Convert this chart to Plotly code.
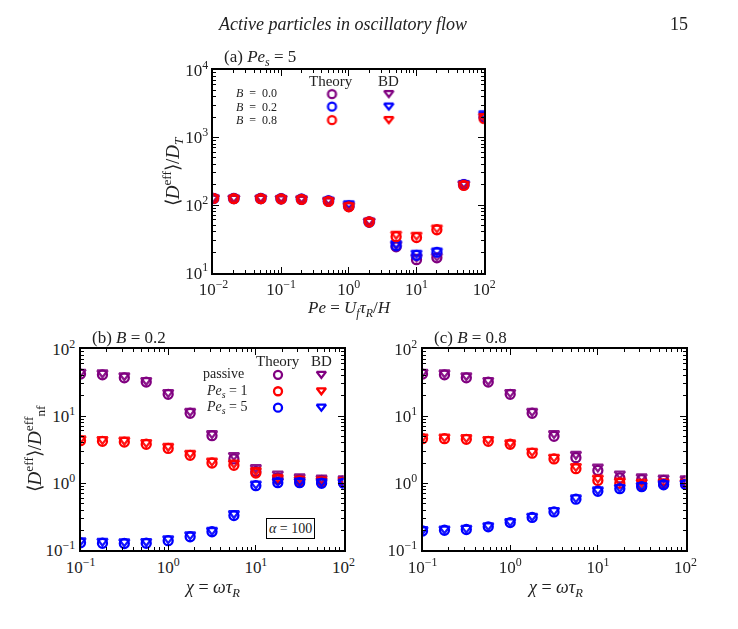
import plotly.graph_objects as go

W, H = 738, 629
FONT = "Liberation Serif"

# ---------------- data ----------------
pe = [0.01, 0.02, 0.05, 0.1, 0.2, 0.5, 1, 2, 5, 10, 20, 50, 100]
a_th_b00 = [125, 125, 125, 124, 122, 115, 95, 56, 24, 15.5, 16.5, 200, 1950]
a_bd_b00 = [128, 127, 127, 126, 124, 118, 100, 58, 26, 17, 17.5, 205, 2100]
a_th_b02 = [125, 125, 125, 124, 122, 115, 97, 56, 25, 18, 20, 200, 2000]
a_bd_b02 = [128, 127, 127, 126, 124, 118, 105, 58, 27, 19.5, 21, 210, 2250]
a_th_b08 = [125, 124, 124, 123, 121, 113, 94, 56, 34, 33, 43, 195, 1900]
a_bd_b08 = [128, 127, 127, 126, 124, 117, 98, 58, 37, 36, 46, 205, 2050]

chi = [0.1, 0.178, 0.316, 0.562, 1, 1.78, 3.16, 5.62, 10, 17.8, 31.6, 56.2, 100]
b_th_passive = [42, 41, 37, 32, 21, 11, 5.1, 2.3, 1.5, 1.2, 1.12, 1.1, 1.08]
b_bd_passive = [45, 44, 40, 34, 22.5, 11.8, 5.5, 2.6, 1.72, 1.38, 1.25, 1.2, 1.17]
b_th_pe1 = [4.3, 4.2, 4.1, 3.8, 3.3, 2.6, 2.0, 1.85, 1.42, 1.15, 1.08, 1.05, 1.03]
b_bd_pe1 = [4.6, 4.5, 4.4, 4.05, 3.55, 2.8, 2.15, 2.0, 1.55, 1.22, 1.15, 1.12, 1.1]
b_th_pe5 = [0.13, 0.128, 0.127, 0.128, 0.14, 0.16, 0.19, 0.33, 0.92, 1.02, 1.02, 1.0, 1.0]
b_bd_pe5 = [0.14, 0.138, 0.135, 0.137, 0.15, 0.172, 0.2, 0.355, 0.98, 1.08, 1.08, 1.06, 1.05]

c_th_passive = [42, 41, 37, 32, 21, 11, 5.0, 2.4, 1.55, 1.2, 1.13, 1.1, 1.08]
c_bd_passive = [45, 44, 40, 34, 22.5, 11.8, 5.5, 2.7, 1.75, 1.38, 1.25, 1.2, 1.17]
c_th_pe1 = [4.6, 4.6, 4.5, 4.2, 3.8, 2.8, 2.3, 1.65, 1.1, 1.0, 0.93, 0.98, 0.98]
c_bd_pe1 = [4.9, 4.9, 4.8, 4.5, 4.0, 3.0, 2.45, 1.78, 1.2, 1.08, 1.04, 1.05, 1.04]
c_th_pe5 = [0.195, 0.2, 0.205, 0.225, 0.26, 0.31, 0.375, 0.58, 0.76, 0.83, 0.89, 0.95, 0.96]
c_bd_pe5 = [0.205, 0.21, 0.215, 0.235, 0.27, 0.325, 0.395, 0.61, 0.8, 0.87, 0.93, 0.99, 1.0]

PURPLE, RED, BLUE = "#800080", "#ff0000", "#0000ff"

a_xticks = [0.01, 0.1, 1, 10, 100]
a_xticktext = ["10<sup>−2</sup>", "10<sup>−1</sup>", "10<sup>0</sup>", "10<sup>1</sup>", "10<sup>2</sup>"]
a_yticks = [10, 100, 1000, 10000]
a_yticktext = ["10<sup>1</sup>", "10<sup>2</sup>", "10<sup>3</sup>", "10<sup>4</sup>"]
bc_xticks = [0.1, 1, 10, 100]
bc_xticktext = ["10<sup>−1</sup>", "10<sup>0</sup>", "10<sup>1</sup>", "10<sup>2</sup>"]
bc_yticks = [0.1, 1, 10, 100]
bc_yticktext = ["10<sup>−1</sup>", "10<sup>0</sup>", "10<sup>1</sup>", "10<sup>2</sup>"]


def minor_vals(lo, hi):
    out = []
    for e in range(lo, hi):
        for k in range(2, 10):
            out.append(k * 10.0 ** e)
    return out


# panel pixel boxes (left, right, top, bottom) and log ranges
BOX_A = (206, 487, 60, 270)
BOX_B = (68, 341, 349, 558)
BOX_C = (423, 696, 349, 558)
RX_A, RY_A = (-2, 2), (1, 4)
RX_BC, RY_BC = (-1, 2), (-1, 2)

fig = go.Figure()


def add_series(x, th, bd, color, xa, ya):
    fig.add_trace(go.Scatter(x=x, y=th, mode="markers", xaxis=xa, yaxis=ya,
                             marker=dict(symbol="circle-open", size=9, color=color,
                                         line=dict(width=2.3, color=color)),
                             showlegend=False, hoverinfo="skip"))
    fig.add_trace(go.Scatter(x=x, y=bd, mode="markers", xaxis=xa, yaxis=ya,
                             marker=dict(symbol="triangle-down-open", size=9, color=color,
                                         line=dict(width=2.3, color=color)),
                             opacity=0.9, showlegend=False, hoverinfo="skip"))


add_series(pe, a_th_b00, a_bd_b00, PURPLE, "x", "y")
add_series(pe, a_th_b02, a_bd_b02, BLUE, "x", "y")
add_series(pe, a_th_b08, a_bd_b08, RED, "x", "y")
add_series(chi, b_th_passive, b_bd_passive, PURPLE, "x2", "y2")
add_series(chi, b_th_pe1, b_bd_pe1, RED, "x2", "y2")
add_series(chi, b_th_pe5, b_bd_pe5, BLUE, "x2", "y2")
add_series(chi, c_th_passive, c_bd_passive, PURPLE, "x3", "y3")
add_series(chi, c_th_pe1, c_bd_pe1, RED, "x3", "y3")
add_series(chi, c_th_pe5, c_bd_pe5, BLUE, "x3", "y3")


# legend markers: pixel position converted into the panel's log data space
def px_to_data(px, py, box, rx, ry):
    l, r, t, b = box
    lx = rx[0] + (px - l) / (r - l) * (rx[1] - rx[0])
    ly = ry[1] - (py - t) / (b - t) * (ry[1] - ry[0])
    return 10 ** lx, 10 ** ly


def legend_marks(pts, colors, symbol, box, rx, ry, xa, ya):
    for (px, py), c in zip(pts, colors):
        x, y = px_to_data(px, py, box, rx, ry)
        fig.add_trace(go.Scatter(x=[x], y=[y], mode="markers", xaxis=xa, yaxis=ya,
                                 marker=dict(symbol=symbol, size=8, color=c,
                                             line=dict(width=2.3, color=c)),
                                 showlegend=False, hoverinfo="skip", cliponaxis=False))


legend_marks([(329, 85), (329, 98), (329, 112)], [PURPLE, BLUE, RED], "circle-open",
             BOX_A, RX_A, RY_A, "x", "y")
legend_marks([(388, 84), (388, 97), (388, 111)], [PURPLE, BLUE, RED], "triangle-down-open",
             BOX_A, RX_A, RY_A, "x", "y")
legend_marks([(273, 376), (273, 393), (273, 410)], [PURPLE, RED, BLUE], "circle-open",
             BOX_B, RX_BC, RY_BC, "x2", "y2")
legend_marks([(318, 375), (318, 392), (318, 409)], [PURPLE, RED, BLUE], "triangle-down-open",
             BOX_B, RX_BC, RY_BC, "x2", "y2")


def fx(x):
    return x / W


def fy(y):
    return 1 - y / H


def dom_x(box):
    return [fx(box[0]), fx(box[1])]


def dom_y(box):
    return [fy(box[3]), fy(box[2])]


def major_axis(domain, rng, tickvals, ticktext, anchor):
    return dict(type="log", domain=domain, range=list(rng), anchor=anchor,
                tickmode="array", tickvals=tickvals, ticktext=ticktext,
                ticks="inside", ticklen=6, tickwidth=1.3, tickcolor="black",
                showline=True, linewidth=1.8, linecolor="black", mirror="allticks",
                showgrid=False, zeroline=False, fixedrange=True,
                tickfont=dict(family=FONT, size=17, color="#222"))


def minor_axis(domain, rng, minors, anchor, overlaying, side):
    return dict(type="log", domain=domain, range=list(rng), anchor=anchor,
                overlaying=overlaying, side=side,
                tickmode="array", tickvals=minors, showticklabels=False,
                ticks="inside", ticklen=3, tickwidth=1, tickcolor="black",
                showline=False, mirror="ticks",
                showgrid=False, zeroline=False, fixedrange=True)


layout = dict(
    width=W, height=H, margin=dict(l=0, r=0, t=0, b=0),
    paper_bgcolor="white", plot_bgcolor="rgba(0,0,0,0)", showlegend=False,
    font=dict(family=FONT, color="#222"),
    xaxis=major_axis(dom_x(BOX_A), RX_A, a_xticks, a_xticktext, "y"),
    yaxis=major_axis(dom_y(BOX_A), RY_A, a_yticks, a_yticktext, "x"),
    xaxis2=major_axis(dom_x(BOX_B), RX_BC, bc_xticks, bc_xticktext, "y2"),
    yaxis2=major_axis(dom_y(BOX_B), RY_BC, bc_yticks, bc_yticktext, "x2"),
    xaxis3=major_axis(dom_x(BOX_C), RX_BC, bc_xticks, bc_xticktext, "y3"),
    yaxis3=major_axis(dom_y(BOX_C), RY_BC, bc_yticks, bc_yticktext, "x3"),
    xaxis4=minor_axis(dom_x(BOX_A), RX_A, minor_vals(-2, 2), "y", "x", "bottom"),
    yaxis4=minor_axis(dom_y(BOX_A), RY_A, minor_vals(1, 4), "x", "y", "left"),
    xaxis5=minor_axis(dom_x(BOX_B), RX_BC, minor_vals(-1, 2), "y2", "x2", "bottom"),
    yaxis5=minor_axis(dom_y(BOX_B), RY_BC, minor_vals(-1, 2), "x2", "y2", "left"),
    xaxis6=minor_axis(dom_x(BOX_C), RX_BC, minor_vals(-1, 2), "y3", "x3", "bottom"),
    yaxis6=minor_axis(dom_y(BOX_C), RY_BC, minor_vals(-1, 2), "x3", "y3", "left"),
)
fig.update_layout(**layout)

# invisible traces so the minor-tick axes are drawn
for xa, ya, rx, ry in [("x4", "y4", RX_A, RY_A), ("x5", "y5", RX_BC, RY_BC), ("x6", "y6", RX_BC, RY_BC)]:
    fig.add_trace(go.Scatter(x=[10 ** rx[0]], y=[10 ** ry[0]], xaxis=xa, yaxis=ya,
                             mode="markers", marker=dict(size=1, opacity=0),
                             showlegend=False, hoverinfo="skip"))

annotations = []
EN = "\u2002"


def text(x, y, s, size=15, angle=0, **kw):
    annotations.append(dict(x=fx(x), y=fy(y), xref="paper", yref="paper", text=s,
                            showarrow=False, xanchor="center", yanchor="middle",
                            textangle=angle,
                            font=dict(family=FONT, size=size, color="#222"), **kw))


# header
text(340, 12, "<i>Active particles in oscillatory flow</i>", size=18)
text(689, 12, "15", size=18)

# panel a
text(254, 48, "(a) <i>Pe<sub>s</sub></i> = 5", size=17)
text(328, 72, "Theory", size=15)
text(388, 72, "BD", size=15)
text(251, 84, "<i>B</i>" + EN + "=" + EN + "0.0", size=12)
text(251, 98, "<i>B</i>" + EN + "=" + EN + "0.2", size=12)
text(251, 112, "<i>B</i>" + EN + "=" + EN + "0.8", size=12)
text(347, 308, "<i>Pe</i> = <i>U<sub>f</sub></i><i>τ<sub>R</sub></i>/<i>H</i>", size=17)
text(163, 165, "⟨<i>D</i><sup>eff</sup>⟩/<i>D<sub>T</sub></i>", size=19, angle=-90)

# panel b
text(118, 337, "(b) <i>B</i> = 0.2", size=17)
text(273, 362, "Theory", size=15)
text(318, 362, "BD", size=15)
text(216, 375, "passive", size=14)
text(220, 393, "<i>Pe<sub>s</sub></i> = 1", size=14)
text(220, 410, "<i>Pe<sub>s</sub></i> = 5", size=14)
text(204, 597, "<i>χ</i> = <i>ωτ<sub>R</sub></i>", size=18)
text(20, 453, "⟨<i>D</i><sup>eff</sup>⟩/<i>D</i><sup>eff</sup><sub>nf</sub>", size=19, angle=-90)
text(286, 535, "<i>α</i> = 100", size=14, bordercolor="black", borderwidth=1,
     borderpad=2, bgcolor="white")

# panel c
text(473, 337, "(c) <i>B</i> = 0.8", size=17)
text(560, 597, "<i>χ</i> = <i>ωτ<sub>R</sub></i>", size=18)

fig.update_layout(annotations=annotations)

fig.write_html("out.html")
